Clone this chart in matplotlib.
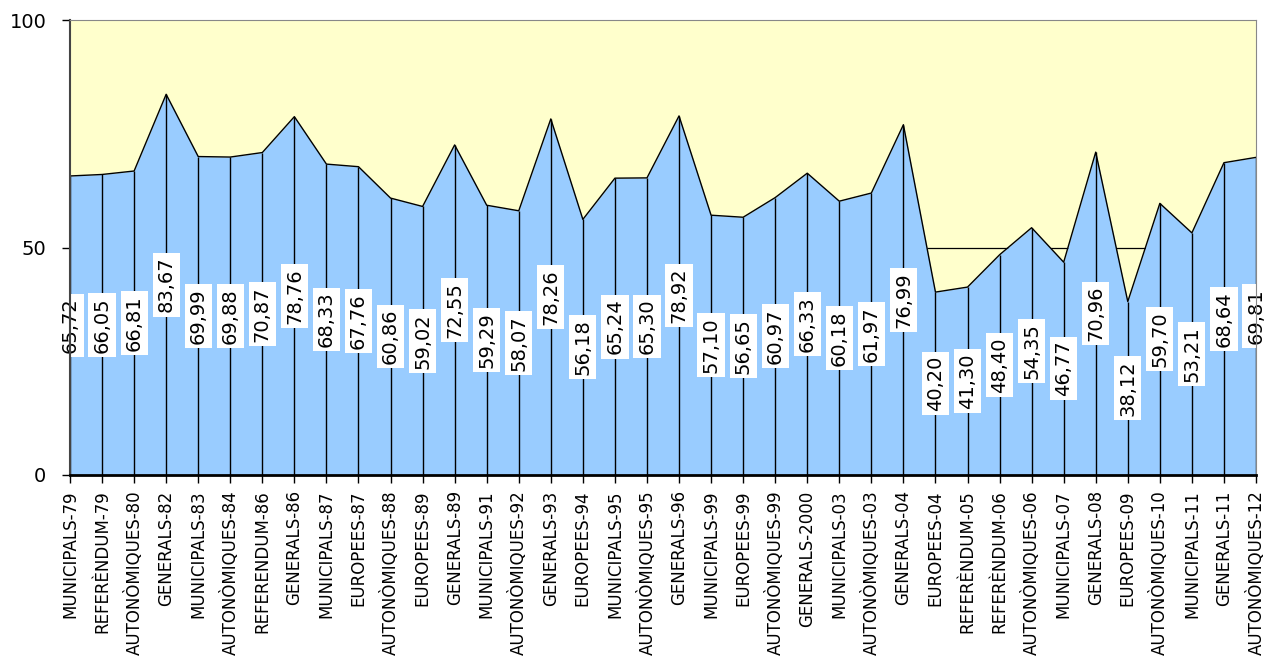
import numpy as np
import matplotlib.pyplot as plt

# categories and turnout values
categories = ['MUNICIPALS-79', 'REFERÈNDUM-79', 'AUTONÒMIQUES-80', 'GENERALS-82',
              'MUNICIPALS-83', 'AUTONÒMIQUES-84', 'REFERENDUM-86', 'GENERALS-86',
              'MUNICIPALS-87', 'EUROPEES-87', 'AUTONÒMIQUES-88', 'EUROPEES-89',
              'GENERALS-89', 'MUNICIPALS-91', 'AUTONÒMIQUES-92', 'GENERALS-93',
              'EUROPEES-94', 'MUNICIPALS-95', 'AUTONÒMIQUES-95', 'GENERALS-96',
              'MUNICIPALS-99', 'EUROPEES-99', 'AUTONÒMIQUES-99', 'GENERALS-2000',
              'MUNICIPALS-03', 'AUTONÒMIQUES-03', 'GENERALS-04', 'EUROPEES-04',
              'REFERÈNDUM-05', 'REFERÈNDUM-06', 'AUTONÒMIQUES-06', 'MUNICIPALS-07',
              'GENERALS-08', 'EUROPEES-09', 'AUTONÒMIQUES-10', 'MUNICIPALS-11',
              'GENERALS-11', 'AUTONÒMIQUES-12']
values = [65.72, 66.05, 66.81, 83.67, 69.99, 69.88, 70.87, 78.76, 68.33, 67.76,
          60.86, 59.02, 72.55, 59.29, 58.07, 78.26, 56.18, 65.24, 65.30, 78.92,
          57.10, 56.65, 60.97, 66.33, 60.18, 61.97, 76.99, 40.20, 41.30, 48.40,
          54.35, 46.77, 70.96, 38.12, 59.70, 53.21, 68.64, 69.81]
y_ticks = [0, 50, 100]

plt.rcParams['font.family'] = ['DejaVu Sans']

x = np.arange(len(values))
fig = plt.figure(figsize=(12.68, 6.69), dpi=100)
ax = fig.add_axes([70/1268, 1 - 475/669, (1256-70)/1268, (475-20)/669])
ax.set_facecolor('#FFFFCC')

# gridline sits behind the area
ax.axhline(50, color='black', linewidth=0.9, zorder=1)

ax.fill_between(x, 0, values, color='#99CCFF', linewidth=0, zorder=2)
ax.plot(x, values, color='black', linewidth=1, zorder=3)
ax.vlines(x, 0, values, color='black', linewidth=1, zorder=3)

# value labels in the middle of the area
for xi, v in zip(x, values):
    ax.text(xi, v / 2, f'{v:.2f}'.replace('.', ','), rotation=90,
            ha='center', va='center', fontsize=14, zorder=5,
            bbox=dict(facecolor='white', edgecolor='none', pad=3))

ax.set_xlim(0, len(values) - 1)
ax.set_ylim(0, 100)
ax.set_xticks(x)
ax.set_xticklabels(categories, rotation=90, fontsize=12)
ax.set_yticks(y_ticks)
ax.set_yticklabels([str(t) for t in y_ticks], fontsize=14)
ax.tick_params(axis='x', length=6, width=1, color='black', pad=5)
ax.tick_params(axis='y', length=6, width=1, color='black', pad=11)

ax.spines['top'].set_color('#888888')
ax.spines['right'].set_color('#888888')
ax.spines['left'].set_color('#444444')
ax.spines['left'].set_linewidth(1.5)
ax.spines['bottom'].set_color('black')
ax.spines['bottom'].set_linewidth(2)
for s in ax.spines.values():
    s.set_zorder(6)

fig.savefig('out.png', dpi=100)
